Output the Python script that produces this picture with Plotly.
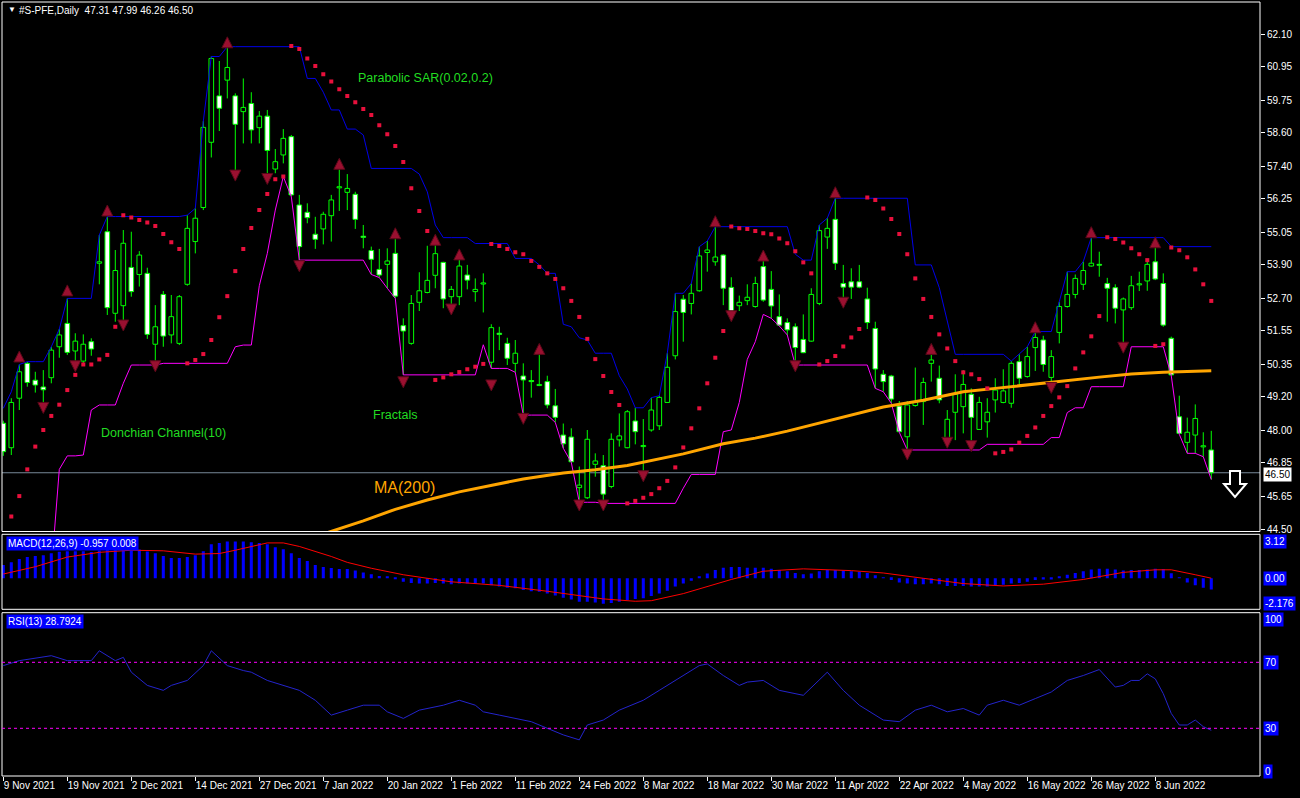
import plotly.graph_objects as go
import pandas as pd

# ---------------- data ----------------
opens = [48.26, 47.39, 49.15, 50.39, 49.79, 49.55, 49.88, 50.98, 51.81, 50.83,
         50.47, 51.16, 53.95, 55.07, 52.17, 52.44, 53.80, 53.55, 53.59, 51.07,
         52.84, 51.40, 51.10, 53.20, 54.72, 55.93, 58.25, 59.90, 60.46, 59.90,
         59.34, 59.63, 58.77, 59.18, 57.30, 57.80, 58.45, 56.02, 55.76, 54.98,
         55.17, 55.64, 56.63, 56.47, 56.40, 54.91, 54.40, 53.73, 53.91, 54.30,
         51.73, 51.10, 52.56, 52.91, 53.52, 53.98, 52.76, 52.76, 53.53, 52.94,
         53.21, 50.43, 51.46, 51.10, 50.39, 49.94, 49.78, 49.60, 49.74, 48.88,
         47.84, 47.77, 45.97, 45.61, 46.80, 46.75, 46.01, 47.67, 47.39, 48.34,
         47.43, 48.02, 48.17, 49.00, 50.66, 52.67, 52.52, 52.97, 54.33, 54.00,
         54.24, 53.09, 52.44, 52.62, 52.41, 53.83, 53.02, 52.05, 51.84, 51.69,
         51.24, 51.18, 52.52, 54.88, 55.51, 53.23, 53.29, 53.29, 52.68, 51.63,
         50.00, 49.94, 48.87, 47.78, 48.89, 49.03, 50.39, 49.86, 47.61, 48.65,
         48.85, 49.29, 48.04, 48.31, 49.09, 49.00, 48.97, 50.45, 49.92, 50.95,
         51.22, 49.89, 51.49, 52.41, 52.84, 53.20, 53.85, 53.91, 53.23, 53.08,
         52.29, 52.37, 53.18, 53.32, 54.00, 53.23, 51.28, 48.49, 47.58, 47.84,
         47.42, 47.31]
highs = [48.35, 49.15, 50.35, 50.45, 50.09, 50.15, 50.98, 51.61, 52.70, 51.46,
         51.42, 51.28, 54.95, 55.61, 54.42, 55.13, 55.07, 54.38, 53.79, 52.46,
         52.96, 52.82, 52.82, 55.66, 55.90, 59.00, 61.30, 61.14, 61.65, 59.99,
         60.52, 60.03, 59.36, 59.40, 58.01, 58.72, 58.51, 56.38, 56.08, 55.60,
         55.78, 56.38, 57.32, 57.12, 56.49, 55.31, 54.54, 54.46, 54.48, 54.86,
         51.99, 52.82, 53.63, 54.57, 54.65, 54.00, 53.14, 54.12, 53.89, 53.41,
         53.59, 51.78, 51.69, 51.30, 51.22, 50.39, 50.15, 50.75, 49.95, 49.48,
         48.25, 48.08, 46.72, 48.02, 47.19, 47.13, 47.90, 48.61, 48.73, 48.81,
         48.41, 49.17, 49.24, 50.75, 52.88, 52.82, 53.23, 54.54, 54.74, 55.25,
         54.27, 53.45, 52.80, 53.20, 53.47, 54.06, 53.67, 52.84, 51.99, 51.81,
         52.13, 53.06, 55.31, 55.55, 56.26, 53.89, 53.77, 53.89, 53.08, 51.87,
         50.15, 49.98, 49.05, 49.05, 50.24, 49.88, 50.71, 50.31, 48.73, 50.00,
         50.15, 49.50, 49.20, 49.15, 49.86, 50.18, 50.47, 50.71, 50.98, 51.52,
         51.37, 50.86, 52.58, 53.65, 53.55, 54.01, 54.86, 54.36, 53.43, 53.20,
         52.73, 53.50, 53.65, 54.06, 54.54, 53.59, 51.34, 49.24, 48.46, 48.93,
         47.94, 47.99]
lows = [47.10, 47.13, 48.73, 49.56, 49.35, 48.91, 49.68, 50.59, 50.69, 50.39,
        50.33, 50.66, 53.20, 52.11, 51.87, 51.81, 52.76, 53.12, 51.26, 50.39,
        50.98, 51.10, 51.04, 53.15, 54.30, 55.84, 57.71, 58.65, 59.81, 57.15,
        58.21, 58.21, 58.21, 57.03, 57.15, 57.50, 56.32, 54.06, 55.37, 54.46,
        54.62, 54.72, 55.81, 55.84, 55.17, 54.48, 53.55, 53.44, 53.06, 52.70,
        49.98, 51.05, 52.25, 52.88, 53.06, 52.35, 52.37, 52.46, 53.02, 52.58,
        52.20, 50.21, 50.86, 50.33, 50.07, 48.55, 49.17, 49.58, 48.79, 48.29,
        47.37, 46.87, 45.45, 45.57, 46.36, 45.41, 45.95, 47.43, 47.37, 47.51,
        46.44, 47.96, 48.02, 49.00, 50.53, 51.16, 52.13, 52.94, 53.65, 53.86,
        52.46, 52.13, 52.25, 52.46, 52.37, 52.58, 51.99, 51.72, 51.40, 50.33,
        50.75, 51.16, 52.46, 54.46, 53.71, 52.61, 52.68, 53.06, 51.61, 49.50,
        49.38, 48.97, 47.94, 47.31, 48.85, 48.20, 49.74, 48.97, 47.58, 47.66,
        47.90, 47.51, 48.02, 47.75, 48.64, 48.97, 48.81, 49.62, 49.88, 50.12,
        50.09, 49.56, 51.10, 52.37, 52.70, 53.00, 53.83, 53.47, 51.87, 51.81,
        50.98, 52.29, 52.96, 52.97, 53.35, 51.69, 49.95, 47.87, 47.19, 47.19,
        47.07, 46.26]
closes = [47.25, 49.00, 50.09, 49.71, 49.62, 49.45, 50.86, 51.40, 50.78, 51.18,
          51.07, 50.90, 54.00, 52.37, 53.69, 54.66, 52.94, 54.24, 51.42, 51.69,
          51.36, 52.05, 52.76, 55.19, 55.55, 58.78, 61.23, 59.46, 60.91, 58.89,
          59.49, 58.69, 59.18, 57.96, 57.56, 58.39, 56.38, 54.54, 55.57, 54.80,
          55.69, 56.20, 56.67, 56.61, 55.51, 54.87, 54.09, 53.53, 54.03, 52.78,
          51.54, 52.52, 52.97, 53.34, 54.29, 52.68, 53.02, 53.85, 53.35, 53.02,
          53.25, 51.66, 51.42, 50.57, 50.75, 49.80, 49.74, 49.64, 48.91, 48.47,
          47.53, 46.89, 46.06, 47.69, 46.92, 45.74, 47.69, 47.81, 48.67, 47.96,
          47.47, 48.73, 49.18, 50.25, 52.23, 52.20, 52.88, 54.21, 54.42, 54.17,
          53.06, 52.17, 52.56, 52.74, 53.23, 52.64, 52.43, 51.75, 51.58, 50.95,
          50.77, 52.84, 55.11, 55.19, 53.95, 53.10, 53.10, 53.10, 51.84, 50.19,
          49.74, 49.12, 47.96, 48.91, 49.03, 49.71, 50.51, 49.09, 48.40, 49.29,
          49.64, 48.47, 49.00, 48.65, 49.44, 49.41, 50.39, 49.86, 50.63, 51.31,
          50.35, 50.63, 52.41, 52.84, 53.41, 53.69, 53.95, 53.88, 53.06, 52.35,
          52.68, 53.15, 53.22, 53.91, 53.39, 51.75, 49.98, 47.90, 47.94, 48.43,
          47.46, 46.50]

tick_labels = ["9 Nov 2021", "19 Nov 2021", "2 Dec 2021", "14 Dec 2021", "27 Dec 2021",
               "7 Jan 2022", "20 Jan 2022", "1 Feb 2022", "11 Feb 2022", "24 Feb 2022",
               "8 Mar 2022", "18 Mar 2022", "30 Mar 2022", "11 Apr 2022", "22 Apr 2022",
               "4 May 2022", "16 May 2022", "26 May 2022", "8 Jun 2022"]
tick_step = 8
price_ticks = [62.10, 60.95, 59.75, 58.60, 57.40, 56.25, 55.05, 53.90, 52.70,
               51.55, 50.35, 49.20, 48.00, 46.85, 45.65, 44.50]
last_price = 46.50

sar = [None, 44.94, 45.67, 46.62, 47.43, 48.02, 48.52, 48.92, 49.44, 49.98,
       50.35, 50.35, 50.53, 50.69, 51.69, 55.66, 55.58, 55.49, 55.40, 55.27,
       54.99, 54.70, 54.46, 50.39, 50.51, 50.72, 51.22, 52.03, 52.78, 53.67,
       54.46, 55.20, 55.84, 56.41, 56.94, 57.03, 61.67, 61.57, 61.23, 60.96,
       60.67, 60.41, 60.14, 59.90, 59.67, 59.43, 59.22, 58.86, 58.54, 58.12,
       57.55, 56.62, 55.81, 55.10, 49.80, 49.89, 50.00, 50.08, 50.18, 50.27,
       50.37, 54.63, 54.56, 54.46, 54.34, 54.27, 54.03, 53.82, 53.59, 53.39,
       53.06, 52.61, 52.04, 51.26, 50.54, 49.94, 49.37, 48.91, 45.41, 45.50,
       45.61, 45.74, 45.95, 46.21, 46.69, 47.40, 48.08, 48.79, 49.68, 50.59,
       51.54, 55.26, 55.19, 55.17, 55.10, 55.02, 54.98, 54.83, 54.66, 54.38,
       53.98, 53.59, 50.35, 50.47, 50.65, 50.99, 51.31, 51.61, 56.29, 56.20,
       55.90, 55.52, 54.99, 54.27, 53.41, 52.68, 52.04, 51.42, 50.92, 50.47,
       50.07, 50.00, 49.83, 49.50, 47.19, 47.24, 47.33, 47.57, 47.81, 48.11,
       48.52, 48.87, 49.18, 49.58, 50.21, 50.78, 51.35, 52.07, 54.87, 54.81,
       54.69, 54.48, 54.27, 54.06, 51.01, 51.07, 54.51, 54.41, 54.16, 53.73,
       53.20, 52.61]

fractal_up_idx = [2, 8, 13, 28, 42, 49, 54, 57, 67, 89, 95, 104, 116, 129, 136, 144]
fractal_up_price = [50.83, 53.18, 56.02, 62.00, 57.68, 55.21, 54.98, 54.46, 51.10,
                    55.64, 54.42, 56.67, 51.10, 51.87, 55.25, 54.89]
fractal_dn_idx = [5, 9, 15, 19, 29, 33, 37, 50, 56, 61, 65, 72, 75, 80, 91, 99,
                  105, 113, 118, 121, 131, 140]
fractal_dn_price = [48.61, 50.09, 51.54, 50.09, 56.87, 56.75, 53.65, 49.52, 52.11,
                    49.41, 48.22, 45.14, 45.14, 46.18, 51.87, 50.09, 52.35, 46.95,
                    47.37, 47.25, 49.32, 50.75]

ma200_idx = [36, 41, 45, 49, 53, 57, 61, 65, 70, 74, 78, 81, 85, 90, 94, 98, 102,
             106, 110, 115, 120, 124, 128, 132, 137, 141, 145, 151]
ma200_val = [43.95, 44.42, 44.79, 45.20, 45.53, 45.82, 46.05, 46.28, 46.49, 46.61,
             46.76, 46.94, 47.17, 47.53, 47.73, 47.98, 48.26, 48.54, 48.84, 49.08,
             49.38, 49.50, 49.63, 49.75, 49.90, 50.01, 50.07, 50.13]

dc_period = 10
dc_upper_head = [48.79, 49.38]
dc_lower_head = [43.0, 43.0, 43.0, 43.0, 43.0, 43.0, 43.0, 46.62]

macd_hist = [1.12, 1.37, 1.63, 1.80, 1.90, 1.96, 2.13, 2.24, 2.30, 2.30,
             2.30, 2.22, 2.36, 2.42, 2.44, 2.44, 2.50, 2.44, 2.27, 2.13,
             1.88, 1.71, 1.71, 1.80, 1.96, 2.30, 2.89, 3.00, 3.12, 3.12,
             3.12, 3.05, 3.00, 2.89, 2.64, 2.47, 2.13, 1.71, 1.46, 1.12,
             0.95, 0.87, 0.78, 0.78, 0.65, 0.50, 0.35, 0.20, 0.10, -0.05,
             -0.30, -0.40, -0.45, -0.45, -0.40, -0.45, -0.50, -0.45, -0.45, -0.45,
             -0.45, -0.60, -0.70, -0.80, -0.85, -1.00, -1.10, -1.15, -1.30, -1.45,
             -1.65, -1.80, -2.00, -2.00, -2.05, -2.15, -2.10, -2.00, -1.85, -1.75,
             -1.70, -1.50, -1.30, -1.05, -0.70, -0.45, -0.20, 0.10, 0.40, 0.70,
             0.90, 0.95, 0.95, 0.90, 0.90, 0.90, 0.80, 0.70, 0.60, 0.45,
             0.35, 0.40, 0.60, 0.70, 0.70, 0.65, 0.60, 0.55, 0.45, 0.25,
             0.05, -0.15, -0.35, -0.45, -0.50, -0.50, -0.45, -0.50, -0.65, -0.65,
             -0.65, -0.70, -0.70, -0.70, -0.60, -0.55, -0.45, -0.40, -0.30, -0.15,
             -0.10, -0.10, 0.10, 0.30, 0.45, 0.60, 0.75, 0.80, 0.80, 0.75,
             0.65, 0.70, 0.70, 0.75, 0.80, 0.78, 0.43, 0.05, -0.35, -0.60,
             -0.80, -0.957]
signal_idx = [0, 4, 8, 12, 16, 20, 24, 27, 29, 33, 35, 37, 41, 43, 46, 50, 56, 62,
              68, 75, 79, 81, 85, 87, 91, 95, 100, 106, 110, 115, 120, 125, 130,
              135, 140, 144, 146, 149, 151]
signal_val = [0.36, 0.98, 1.80, 2.20, 2.38, 2.33, 2.05, 2.10, 2.38, 3.00, 3.00, 2.70,
              1.85, 1.35, 0.85, 0.30, -0.30, -0.60, -1.10, -1.75, -1.95, -1.90,
              -1.30, -0.90, -0.10, 0.60, 0.80, 0.65, 0.45, 0.00, -0.45, -0.65,
              -0.50, -0.10, 0.50, 0.72, 0.72, 0.30, 0.008]

rsi_idx = [0, 2, 6, 8, 11, 12, 14, 15, 16, 18, 20, 21, 23, 25, 26, 28, 30, 31, 33,
           35, 37, 39, 41, 43, 45, 47, 48, 50, 52, 55, 57, 59, 60, 62, 64, 66, 70,
           72, 73, 75, 77, 80, 82, 85, 87, 88, 90, 92, 93, 95, 97, 100, 102, 103,
           105, 107, 110, 112, 114, 116, 118, 120, 122, 123, 125, 127, 129, 131,
           133, 135, 137, 139, 140, 141, 142, 143, 144, 145, 146, 147, 148, 149,
           150, 151]
rsi_val = [68, 71, 74, 71, 71, 77, 71, 73, 64, 56, 53, 56, 59, 68, 77, 68, 65, 64, 59,
           56, 53, 47, 38, 41, 44, 44, 40, 36, 41, 44, 47, 44, 40, 38, 36, 34, 26,
           23, 32, 35, 41, 47, 53, 62, 68, 69, 62, 56, 58, 59, 53, 50, 59, 64,
           53, 44, 35, 34, 41, 44, 40, 42, 38, 44, 47, 44, 48, 52,
           59, 62, 65.6, 55, 56, 59, 59, 63, 60, 51, 39, 32, 32, 35,
           31, 28.79]

# ---------------- derived ----------------
n = len(closes)
idx = list(range(n))
dc_upper = pd.Series(highs).rolling(dc_period, min_periods=1).max().tolist()
dc_lower = pd.Series(lows).rolling(dc_period, min_periods=1).min().tolist()
dc_upper[:len(dc_upper_head)] = dc_upper_head
dc_lower[:len(dc_lower_head)] = dc_lower_head

# ---------------- layout geometry (pixels) ----------------
FONT = "Liberation Sans"
W, H = 1300, 798
L, R, T, B = 2, 40, 2, 22
PW, PH = W - L - R, H - T - B


def fx(x_px):
    return (x_px - L) / PW


def fy(y_px):
    return (H - B - y_px) / PH


main_dom = [fy(531.5), 1.0]
macd_dom = [fy(609.3), fy(534.3)]
rsi_dom = [0.0, fy(612.7)]

GREEN = "#00FF00"
fig = go.Figure()

# wicks (drawn outside the bodies)
wx, wy = [], []
for i in idx:
    top, bot = max(opens[i], closes[i]), min(opens[i], closes[i])
    wx += [i, i, None, i, i, None]
    wy += [highs[i], top, None, bot, lows[i], None]
fig.add_trace(go.Scatter(x=wx, y=wy, mode="lines", line=dict(color=GREEN, width=1),
                         hoverinfo="skip"))

bull = [i for i in idx if closes[i] >= opens[i]]
bear = [i for i in idx if closes[i] < opens[i]]
for sel, fill in ((bull, "black"), (bear, "white")):
    fig.add_trace(go.Bar(
        x=sel,
        y=[abs(closes[i] - opens[i]) for i in sel],
        base=[min(opens[i], closes[i]) for i in sel],
        width=0.58, marker=dict(color=fill, line=dict(color=GREEN, width=1)),
        yaxis="y", hoverinfo="skip"))

fig.add_trace(go.Scatter(x=idx, y=dc_upper, mode="lines", line=dict(color="#0000E8", width=1)))
fig.add_trace(go.Scatter(x=idx, y=dc_lower, mode="lines", line=dict(color="#FF00FF", width=1)))
fig.add_trace(go.Scatter(x=ma200_idx, y=ma200_val, mode="lines",
                         line=dict(color="#FFA500", width=3)))
fig.add_trace(go.Scatter(x=idx, y=sar, mode="markers",
                         marker=dict(symbol="square", size=4, color="#E8103C")))
fig.add_trace(go.Scatter(x=fractal_up_idx, y=fractal_up_price, mode="markers",
                         marker=dict(symbol="arrow-up", size=11, color="#9A1030",
                                     line=dict(width=1, color="#5A0818"))))
fig.add_trace(go.Scatter(x=fractal_dn_idx, y=fractal_dn_price, mode="markers",
                         marker=dict(symbol="arrow-down", size=11, color="#9A1030",
                                     line=dict(width=1, color="#5A0818"))))

# MACD
fig.add_trace(go.Bar(x=idx, y=macd_hist, width=0.38, marker=dict(color="#0000FF", line=dict(width=0)),
                     yaxis="y2"))
fig.add_trace(go.Scatter(x=signal_idx, y=signal_val, mode="lines",
                         line=dict(color="#FF0000", width=1), yaxis="y2"))
# RSI
fig.add_trace(go.Scatter(x=rsi_idx, y=rsi_val, mode="lines",
                         line=dict(color="#2424CC", width=1), yaxis="y3"))

# ---------------- shapes ----------------
shapes = []
for dom in (main_dom, macd_dom, rsi_dom):
    shapes.append(dict(type="rect", xref="paper", yref="paper", x0=0, x1=1,
                       y0=dom[0], y1=dom[1], line=dict(color="white", width=1),
                       fillcolor="rgba(0,0,0,0)", layer="above"))
shapes.append(dict(type="line", xref="paper", yref="y", x0=0, x1=1, y0=last_price,
                   y1=last_price, line=dict(color="#778899", width=1), layer="below"))
for lvl in (70, 30):
    shapes.append(dict(type="line", xref="paper", yref="y3", x0=0, x1=1, y0=lvl, y1=lvl,
                       line=dict(color="#FF00FF", width=1, dash="3px,3px")))
arrow_pts = [(1230, 471), (1240, 471), (1240, 484), (1246, 484), (1235, 497),
             (1224, 484), (1230, 484)]
path = "M " + " L ".join(f"{fx(x):.5f},{fy(y):.5f}" for x, y in arrow_pts) + " Z"
shapes.append(dict(type="path", xref="paper", yref="paper", path=path,
                   line=dict(color="white", width=2), fillcolor="black"))

# ---------------- annotations ----------------
def ann(text, x, y, color="white", size=10, bg="rgba(0,0,0,0)", xanchor="left"):
    return dict(text=text, x=fx(x), y=fy(y), xref="paper", yref="paper",
                xanchor=xanchor, yanchor="middle", showarrow=False, bgcolor=bg,
                borderpad=1, font=dict(color=color, size=size, family=FONT))


TXTG = "#22DD22"
annotations = [
    ann("▼", 6, 10, size=8),
    ann("#S-PFE,Daily  47.31 47.99 46.26 46.50", 17, 10.5),
    ann("Parabolic SAR(0.02,0.2)", 356, 78, color=TXTG, size=12.5),
    ann("Fractals", 371, 415, color=TXTG, size=12.5),
    ann("Donchian Channel(10)", 99, 433, color=TXTG, size=12.5),
    ann("MA(200)", 372, 487, color="#FFA500", size=16),
    ann("MACD(12,26,9) -0.957 0.008", 6, 543, bg="#0000FF"),
    ann("RSI(13) 28.7924", 6, 621, bg="#0000FF"),
    ann("3.12", 1263, 541, bg="#0000FF"),
    ann("0.00", 1263, 578.5, bg="#0000FF"),
    ann("-2.176", 1263, 603, bg="#0000FF"),
    ann("100", 1263, 619, bg="#0000FF"),
    ann("70", 1263, 662, bg="#0000FF"),
    ann("30", 1263, 728.5, bg="#0000FF"),
    ann("0", 1263, 771, bg="#0000FF"),
    ann("46.50", 1263, 474, color="black", bg="white"),
]

axis_font = dict(color="white", size=10, family=FONT)
fig.update_layout(
    template="none",
    width=W, height=H,
    margin=dict(l=L, r=R, t=T, b=B, pad=0),
    paper_bgcolor="black", plot_bgcolor="black",
    font=dict(family=FONT, color="white", size=10),
    showlegend=False, barmode="overlay", hovermode=False,
    xaxis=dict(domain=[0, 1], range=[-0.1625, 157.09], anchor="y3",
               tickvals=list(range(0, n, tick_step))[:len(tick_labels)],
               ticktext=tick_labels, ticks="outside", ticklen=4, tickcolor="white",
               tickfont=axis_font, ticklabelposition="outside right", tickangle=0,
               showgrid=False, zeroline=False, showline=False, automargin=False),
    yaxis=dict(domain=main_dom, range=[44.411, 63.238], side="right", anchor="x",
               tickvals=price_ticks, ticktext=[f"{v:.2f}" for v in price_ticks],
               ticks="outside", ticklen=4, tickcolor="white", tickfont=axis_font,
               showgrid=False, zeroline=False, showline=False, automargin=False),
    yaxis2=dict(domain=macd_dom, range=[-2.63, 3.73], side="right", anchor="x",
                showticklabels=False, ticks="", showgrid=False, zeroline=False,
                automargin=False),
    yaxis3=dict(domain=rsi_dom, range=[1.09, 100.06], side="right", anchor="x",
                showticklabels=False, ticks="", showgrid=False, zeroline=False,
                automargin=False),
    shapes=shapes, annotations=annotations,
)

fig.write_html("out.html",
               config={"displayModeBar": False},
               post_script="document.body.style.margin='0';document.body.style.padding='0';"
                           "document.body.style.background='black';")
